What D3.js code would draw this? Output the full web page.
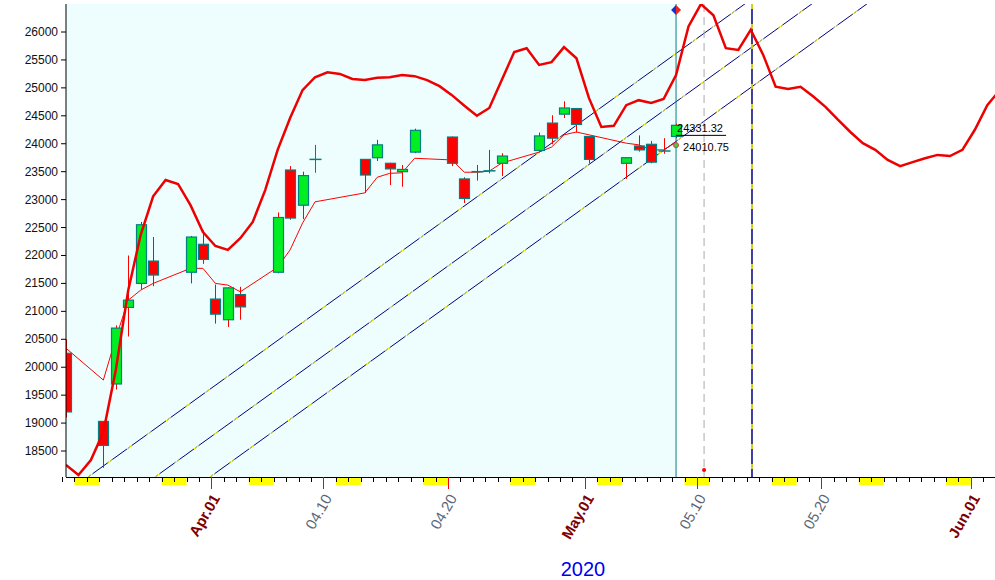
<!DOCTYPE html>
<html><head><meta charset="utf-8">
<script src="https://cdn.jsdelivr.net/npm/d3@7"></script>
<style>body{margin:0;background:#fff}svg{display:block}</style></head>
<body><svg id="c" width="995" height="580"></svg>
<script>
// Day index 0 = 2020-03-20 (Friday)
const candleDays = [0,3,4,5,6,7,10,11,12,13,14,17,18,19,20,24,25,26,27,28,31,32,33,34,35,38,39,40,41,42,45,46,47,48,49];
const opens  = [20250,19030,19700,21070,21500,21900,21700,22200,21220,20850,21300,21700,23530,22900,23700,23720,23750,23650,23500,23850,24120,23370,23470,23520,23650,23880,24370,24530,24630,24130,23650,23960,23990,23860,24130];
const highs  = [20500,19030,20750,22000,22600,22330,22350,22450,21480,21430,21440,22770,23600,23500,23980,23720,24070,23660,23620,24270,24130,23400,23620,23890,23830,24200,24510,24760,24630,24130,23760,24150,24050,24100,24360];
const lows   = [19100,18200,19600,20550,21400,21450,21500,21850,20780,20720,20850,21680,22640,22650,23480,23120,23690,23260,23230,23830,23600,22940,23340,23470,23420,23850,23990,24460,24200,23650,23370,23860,23650,23820,24100];
const closes = [19200,18600,20700,21200,22550,21650,22330,21930,20950,21420,21080,22680,22670,23430,23720,23440,23980,23550,23540,24240,23650,23020,23500,23515,23780,24140,24100,24640,24345,23720,23750,23890,23670,23870,24330];
const midLine = [20340,19770,20520,21200,21380,21500,21770,21770,21500,21470,21350,21790,22100,22580,22960,23120,23400,23470,23480,23740,23710,23490,23490,23510,23655,23850,23940,24160,24210,24160,24010,23980,23890,23890,24030];
// upper band, one value per calendar day from day 0
const upperBand = [18250,18070,18340,18840,19950,21380,22370,23060,23350,23280,22900,22420,22170,22100,22310,22600,23170,23890,24460,24960,25190,25280,25250,25160,25140,25180,25190,25230,25210,25140,25030,24870,24680,24500,24640,25140,25640,25710,25410,25460,25730,25530,24820,24300,24320,24690,24780,24730,24800,25230,26100,26500,26300,25710,25680,26040,25590,25020,24980,25020,24850,24660,24430,24210,24010,23890,23710,23600,23670,23740,23800,23780,23890,24250,24690,24960];
// parallel channel lines: start day, start value; common slope per day
const channelStarts = [[1.77,18035],[7.15,18035],[11.57,18035]];
const channelSlope = 160.5;
const yTicks = [18500,19000,19500,20000,20500,21000,21500,22000,22500,23000,23500,24000,24500,25000,25500,26000];
const xLabels = [[12,"Apr.01",true],[21,"04.10",false],[31,"04.20",false],[42,"May.01",true],[51,"05.10",false],[61,"05.20",false],[73,"Jun.01",true]];
const lastDay = 49, markDay = 51.25, cycleDay = 55.1;
const annHigh = "24331.32", annLow = "24010.75";

const svg = d3.select("#c");
const L=66,R=995,T=4,B=477;
const x = d3.scaleLinear().domain([0,75]).range([L, L+75*12.45]);
const y = d3.scaleLinear().domain([26000-(B-32)/0.05587, 26000+(32-T)/0.05587]).range([B,T]);

svg.append("defs").append("clipPath").attr("id","cp").append("rect").attr("x",L).attr("y",T).attr("width",R-L).attr("height",B-T);
svg.append("rect").attr("x",L).attr("y",T).attr("width",x(lastDay)-L).attr("height",B-T).attr("fill","#eefefe");
const g = svg.append("g").attr("clip-path","url(#cp)");

channelStarts.forEach(([d0,v0])=>{
  const d1=80, v1=v0+channelSlope*(d1-d0);
  const ln = ()=>g.append("line").attr("x1",x(d0)).attr("y1",y(v0)).attr("x2",x(d1)).attr("y2",y(v1));
  ln().attr("stroke","#000080").attr("stroke-width",1);
  ln().attr("stroke","#ffff00").attr("stroke-width",1).attr("stroke-dasharray","6,18");
});

g.append("line").attr("x1",x(lastDay)).attr("x2",x(lastDay)).attr("y1",T).attr("y2",B).attr("stroke","#008080").attr("stroke-width",1);
g.append("line").attr("x1",x(markDay)).attr("x2",x(markDay)).attr("y1",T).attr("y2",B).attr("stroke","#aaaaaa").attr("stroke-width",1).attr("stroke-dasharray","8,5");
g.append("line").attr("x1",x(cycleDay)).attr("x2",x(cycleDay)).attr("y1",T).attr("y2",B).attr("stroke","#000080").attr("stroke-width",1.5);
g.append("line").attr("x1",x(cycleDay)).attr("x2",x(cycleDay)).attr("y1",T).attr("y2",B).attr("stroke","#ffff00").attr("stroke-width",1.5).attr("stroke-dasharray","5,15");
g.append("circle").attr("cx",x(markDay)).attr("cy",B-7).attr("r",2).attr("fill","red");

g.append("path").datum(candleDays.map((d,i)=>[d,midLine[i]])).attr("fill","none").attr("stroke","red").attr("stroke-width",1)
 .attr("d",d3.line().x(d=>x(d[0])).y(d=>y(d[1])));

const cw=10;
candleDays.forEach((d,i)=>{
  const o=opens[i],c=closes[i],up=c>=o, cx=Math.round(x(d))+0.5;
  const doji=Math.abs(c-o)<40;
  g.append("line").attr("x1",cx).attr("x2",cx).attr("y1",y(highs[i])).attr("y2",y(lows[i])).attr("stroke",doji&&i==14?"#008080":"red").attr("stroke-width",1);
  if(doji){
    g.append("line").attr("x1",cx-cw/2-1).attr("x2",cx+cw/2+1).attr("y1",y(c)).attr("y2",y(c)).attr("stroke","#008080").attr("stroke-width",1.5);
  } else {
    g.append("rect").attr("x",cx-cw/2).attr("width",cw).attr("y",y(Math.max(o,c))).attr("height",Math.abs(y(o)-y(c)))
     .attr("fill",up?"#00ee22":"#ff0000").attr("stroke","#008080").attr("stroke-width",1.2);
  }
});

g.append("path").datum(upperBand).attr("fill","none").attr("stroke","#ee0000").attr("stroke-width",2.5)
 .attr("d",d3.line().x((v,i)=>x(i)).y(v=>y(v)));

const ax=x(lastDay);
svg.append("line").attr("x1",ax).attr("x2",ax+50).attr("y1",y(24150)).attr("y2",y(24150)).attr("stroke","#000");
svg.append("text").attr("x",ax+1).attr("y",y(24150)-3).text(annHigh).attr("font-family","Arial").attr("font-size",11);
svg.append("text").attr("x",ax+7).attr("y",y(23950)+4).text(annLow).attr("font-family","Arial").attr("font-size",11);
svg.append("circle").attr("cx",ax).attr("cy",y(23975)).attr("r",2.5).attr("fill","#44cc44").attr("stroke","#cc4444");
svg.append("path").attr("d",`M${ax-5},10 L${ax},5 L${ax},15 Z`).attr("fill","#1133cc");
svg.append("path").attr("d",`M${ax+5},10 L${ax},5 L${ax},15 Z`).attr("fill","#ee2222");

svg.append("line").attr("x1",L).attr("x2",L).attr("y1",T).attr("y2",B).attr("stroke","#000");
svg.append("line").attr("x1",L).attr("x2",R).attr("y1",B+0.5).attr("y2",B+0.5).attr("stroke","#000");
yTicks.forEach(v=>{
  svg.append("line").attr("x1",L-5).attr("x2",L).attr("y1",y(v)).attr("y2",y(v)).attr("stroke","#000");
  svg.append("text").attr("x",L-8).attr("y",y(v)+4).attr("text-anchor","end").attr("font-family","Arial").attr("font-size",12).attr("fill","#111").text(v);
});
const off=-4;
for(let d=0; d<=75; d++){
  const xx=x(d)+off;
  if(xx>R) break;
  if(d%7==1||d%7==2) svg.append("rect").attr("x",xx).attr("y",B+1).attr("width",12.45).attr("height",7).attr("fill","#ffff00");
  svg.append("line").attr("x1",Math.round(xx)+0.5).attr("x2",Math.round(xx)+0.5).attr("y1",B).attr("y2",B+5).attr("stroke","#000");
}
xLabels.forEach(([d,t,maj])=>{
  const xx=Math.round(x(d)+off)+0.5;
  svg.append("line").attr("x1",xx).attr("x2",xx).attr("y1",B).attr("y2",B+12).attr("stroke","red");
  svg.append("text").attr("transform",`translate(${xx+9},${B+21}) rotate(-60)`).attr("text-anchor","end")
    .attr("font-family","Arial").attr("font-size",15).attr("font-weight",maj?"bold":"normal")
    .attr("fill",maj?"#800000":"#5a6678").text(t);
});
svg.append("text").attr("x",583).attr("y",576).attr("text-anchor","middle").attr("font-family","Arial").attr("font-size",20).attr("fill","#0000ee").text("2020");
</script></body></html>
